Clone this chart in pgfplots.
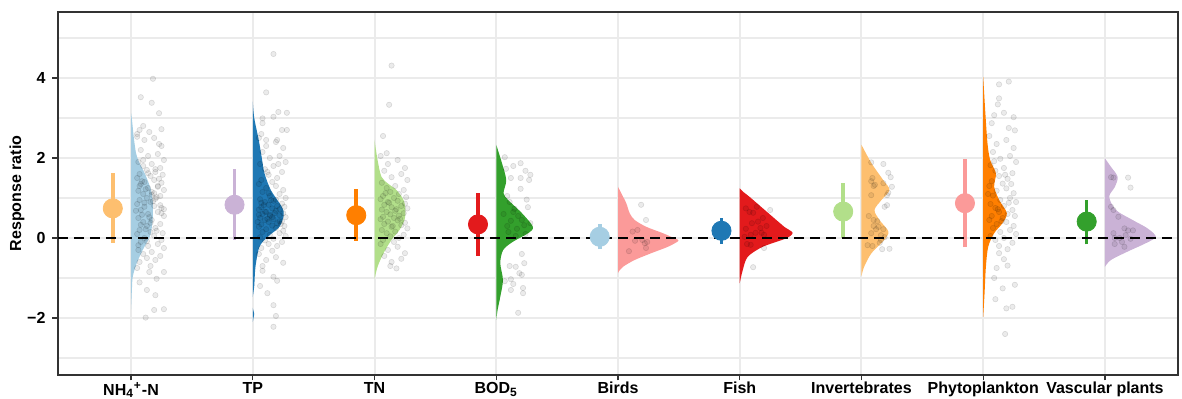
\documentclass[border=0pt]{standalone}
\usepackage{fontspec}
\setmainfont{Liberation Sans}
\usepackage{pgfplots}
\usepackage{pgfplotstable}
\pgfplotsset{compat=1.18}
\definecolor{lblue}{HTML}{A6CEE3}
\definecolor{dblue}{HTML}{1F78B4}
\definecolor{lgreen}{HTML}{B2DF8A}
\definecolor{dgreen}{HTML}{33A02C}
\definecolor{pink}{HTML}{FB9A99}
\definecolor{red}{HTML}{E31A1C}
\definecolor{lorange}{HTML}{FDBF6F}
\definecolor{orange}{HTML}{FF7F00}
\definecolor{lpurple}{HTML}{CAB2D6}
\definecolor{gridc}{HTML}{EBEBEB}
\definecolor{framec}{HTML}{333333}

% jittered observations: o = horizontal offset from the category, y = response ratio
\pgfplotstableread[row sep=\\]{o y\\
0.18 3.98\\0.08 3.52\\0.17 3.38\\0.23 3.12\\0.25 2.72\\0.12 -1.99\\0.27 -1.78\\0.19 -1.80\\0.13 -1.30\\0.20 -1.43\\0.07 -1.11\\0.21 -1.02\\0.15 -0.85\\0.27 -0.85\\
0.07 2.70\\0.15 2.65\\0.10 2.80\\0.23 2.35\\0.05 2.53\\
0.05 2.60\\0.19 2.50\\0.11 2.45\\0.25 2.30\\0.08 2.20\\0.22 2.10\\0.14 2.05\\0.27 1.95\\0.06 1.90\\0.17 1.85\\0.10 1.80\\0.24 1.75\\0.13 1.70\\0.20 1.65\\0.07 1.60\\0.16 1.55\\
0.05 1.50\\0.19 1.45\\0.11 1.40\\0.25 1.38\\0.08 1.35\\0.22 1.30\\0.14 1.25\\0.27 1.20\\0.06 1.18\\0.17 1.15\\0.10 1.10\\0.24 1.05\\0.13 1.00\\0.20 0.98\\0.07 0.95\\0.16 0.90\\
0.05 0.85\\0.19 0.80\\0.11 0.78\\0.25 0.75\\0.08 0.70\\0.22 0.65\\0.14 0.60\\0.27 0.55\\0.06 0.50\\0.17 0.45\\0.10 0.40\\0.24 0.35\\0.13 0.30\\0.20 0.25\\0.07 0.20\\0.16 0.15\\
0.05 0.10\\0.19 0.05\\0.11 0.00\\0.25 -0.05\\0.08 -0.10\\0.22 -0.15\\0.14 -0.20\\0.27 -0.25\\0.06 -0.30\\0.17 -0.35\\0.10 -0.40\\0.24 -0.45\\0.13 -0.50\\0.20 -0.55\\0.07 -0.60\\0.16 -0.70\\
0.05 -0.75\\0.19 1.12\\0.11 0.88\\0.25 0.62\\0.08 0.33\\0.22 1.28\\0.14 1.62\\0.27 0.72\\0.09 1.42\\0.21 1.02\\0.15 0.52\\0.26 0.12\\0.04 0.68\\0.18 0.92\\0.12 1.22\\0.23 1.48\\0.06 -0.18\\0.16 0.38\\
0.10 1.95\\0.20 1.72\\0.26 1.58\\0.09 0.58\\0.21 0.18\\0.13 -0.08\\0.24 0.82\\0.07 1.30\\0.17 1.08\\0.12 0.22\\
}\tNH
\pgfplotstableread[row sep=\\]{o y\\
0.17 4.60\\0.11 3.64\\0.28 3.13\\0.21 3.15\\0.08 2.99\\0.17 3.03\\0.07 2.60\\0.28 2.70\\0.17 -2.22\\0.19 -1.95\\0.17 -1.68\\0.12 -1.38\\0.06 -1.20\\0.20 -1.07\\0.17 -0.97\\0.08 -0.82\\
0.24 2.70\\0.20 2.45\\0.11 2.45\\0.08 2.87\\
0.05 2.50\\0.19 2.40\\0.11 2.30\\0.25 2.25\\0.08 2.15\\0.22 2.05\\0.14 2.00\\0.27 1.90\\0.06 1.85\\0.17 1.80\\0.10 1.72\\0.24 1.65\\0.13 1.58\\0.20 1.50\\0.07 1.45\\0.16 1.40\\
0.05 1.35\\0.19 1.30\\0.11 1.25\\0.25 1.20\\0.08 1.15\\0.22 1.10\\0.14 1.05\\0.27 1.00\\0.06 0.97\\0.17 0.93\\0.10 0.90\\0.24 0.86\\0.13 0.83\\0.20 0.80\\0.07 0.77\\0.16 0.74\\
0.05 0.71\\0.19 0.68\\0.11 0.65\\0.25 0.62\\0.08 0.60\\0.22 0.57\\0.14 0.55\\0.27 0.52\\0.06 0.50\\0.17 0.47\\0.10 0.45\\0.24 0.42\\0.13 0.40\\0.20 0.37\\0.07 0.34\\0.16 0.31\\
0.05 0.28\\0.19 0.25\\0.11 0.22\\0.25 0.18\\0.08 0.15\\0.22 0.12\\0.14 0.08\\0.27 0.05\\0.06 0.02\\0.17 -0.02\\0.10 -0.06\\0.24 -0.10\\0.13 -0.15\\0.20 -0.20\\0.07 -0.25\\0.16 -0.32\\
0.05 -0.40\\0.19 -0.48\\0.11 -0.55\\0.25 -0.62\\0.08 -0.70\\0.22 0.72\\0.14 0.58\\0.12 0.48\\0.18 0.62\\0.09 0.82\\0.23 0.35\\0.15 0.95\\0.04 0.40\\0.26 0.78\\0.12 1.65\\0.21 1.85\\
0.10 0.66\\0.16 0.52\\0.22 0.42\\0.07 0.88\\0.26 0.30\\0.13 1.12\\0.19 0.96\\0.05 0.58\\
}\tTP
\pgfplotstableread[row sep=\\]{o y\\
0.14 4.31\\0.12 3.33\\0.07 2.55\\0.10 2.12\\0.18 -0.76\\0.13 -0.70\\
0.05 2.05\\0.19 1.95\\0.11 1.85\\0.25 1.75\\0.08 1.68\\0.22 1.60\\0.14 1.52\\0.27 1.45\\0.06 1.38\\0.17 1.30\\0.10 1.25\\0.24 1.20\\0.13 1.15\\0.20 1.10\\0.07 1.05\\0.16 1.00\\
0.05 0.97\\0.19 0.93\\0.11 0.90\\0.25 0.86\\0.08 0.83\\0.22 0.80\\0.14 0.77\\0.27 0.74\\0.06 0.71\\0.17 0.68\\0.10 0.65\\0.24 0.62\\0.13 0.59\\0.20 0.56\\0.07 0.53\\0.16 0.50\\
0.05 0.47\\0.19 0.44\\0.11 0.41\\0.25 0.38\\0.08 0.35\\0.22 0.32\\0.14 0.28\\0.27 0.24\\0.06 0.20\\0.17 0.16\\0.10 0.12\\0.24 0.08\\0.13 0.04\\0.20 0.00\\0.07 -0.05\\0.16 -0.10\\
0.05 -0.15\\0.19 -0.22\\0.11 -0.30\\0.25 -0.38\\0.08 -0.45\\0.22 -0.52\\0.14 -0.60\\0.12 0.88\\0.18 0.72\\0.09 1.12\\0.21 0.48\\0.15 0.30\\0.26 1.02\\
}\tTN
\pgfplotstableread[row sep=\\]{o y\\
0.07 2.02\\0.20 1.87\\0.14 1.80\\0.08 1.73\\0.28 1.58\\0.20 1.50\\0.12 1.50\\0.27 1.45\\0.20 1.23\\0.25 0.96\\0.11 0.90\\0.15 0.73\\0.26 0.77\\0.06 0.60\\0.18 0.55\\0.12 0.43\\
0.28 0.37\\0.23 0.32\\0.17 0.23\\0.09 0.30\\0.14 0.65\\0.21 0.45\\0.10 0.15\\0.24 0.10\\0.16 0.05\\0.21 -0.40\\0.23 -0.63\\0.11 -0.70\\0.16 -0.72\\0.19 -0.88\\0.21 -0.92\\0.12 -1.03\\
0.07 -1.08\\0.14 -1.15\\0.22 -1.25\\0.12 -1.30\\0.22 -1.38\\0.18 -1.87\\0.24 1.68\\0.09 1.05\\
}\tBOD
\pgfplotstableread[row sep=\\]{o y\\
0.19 0.83\\0.23 0.45\\0.12 0.16\\0.16 0.20\\0.20 -0.05\\0.14 -0.07\\0.24 -0.10\\0.09 -0.33\\0.23 -0.25\\0.22 -0.13\\
}\tBirds
\pgfplotstableread[row sep=\\]{o y\\
0.25 0.70\\0.14 0.78\\0.08 0.65\\0.15 0.41\\0.19 0.50\\0.10 0.37\\0.05 0.23\\0.18 0.13\\0.13 0.13\\0.09 0.08\\0.20 0.08\\0.17 0.25\\0.06 -0.15\\0.09 -0.17\\0.20 -0.25\\0.04 0.03\\
0.11 -0.73\\0.05 0.74\\0.11 0.63\\0.22 0.30\\
}\tFish
\pgfplotstableread[row sep=\\]{o y\\
0.08 1.89\\0.18 1.85\\0.22 1.63\\0.24 1.52\\0.09 1.50\\0.08 1.42\\0.11 1.33\\0.10 1.30\\0.18 1.37\\0.25 1.28\\0.22 1.13\\0.21 1.07\\0.08 1.07\\0.21 0.82\\0.19 0.78\\0.06 0.55\\
0.10 0.45\\0.13 0.42\\0.10 0.30\\0.14 0.28\\0.12 0.22\\0.18 0.22\\0.16 0.07\\0.08 0.12\\0.19 0.02\\0.05 -0.18\\0.09 -0.20\\0.15 -0.12\\0.17 -0.28\\0.23 -0.27\\0.16 -0.05\\
}\tInv
\pgfplotstableread[row sep=\\]{o y\\
0.21 3.91\\0.13 3.84\\0.13 3.49\\0.12 3.34\\0.09 3.07\\0.17 3.13\\0.25 3.02\\0.07 2.87\\0.21 2.75\\0.26 2.69\\0.18 -2.40\\0.10 -1.53\\0.24 -1.72\\0.19 -1.76\\0.16 -1.26\\0.26 -1.17\\
0.09 -1.00\\0.11 -0.75\\0.20 -0.69\\0.17 -0.53\\0.13 -0.38\\
0.05 2.55\\0.19 2.45\\0.11 2.35\\0.25 2.25\\0.08 2.15\\0.22 2.05\\0.14 1.98\\0.27 1.90\\0.06 1.82\\0.17 1.75\\0.10 1.68\\0.24 1.62\\0.13 1.55\\0.20 1.48\\0.07 1.42\\0.16 1.36\\
0.05 1.30\\0.19 1.24\\0.11 1.18\\0.25 1.12\\0.08 1.06\\0.22 1.00\\0.14 0.95\\0.27 0.90\\0.06 0.85\\0.17 0.80\\0.10 0.75\\0.24 0.70\\0.13 0.65\\0.20 0.60\\0.07 0.55\\0.16 0.50\\
0.05 0.45\\0.19 0.40\\0.11 0.35\\0.25 0.30\\0.08 0.25\\0.22 0.20\\0.14 0.15\\0.27 0.10\\0.06 0.05\\0.17 0.00\\0.10 -0.05\\0.24 -0.12\\0.13 -0.20\\0.20 -0.28\\0.12 0.72\\0.18 1.58\\
0.09 1.92\\0.21 0.88\\0.15 0.42\\0.23 1.35\\0.04 1.10\\0.26 0.55\\
}\tPhy
\pgfplotstableread[row sep=\\]{o y\\
0.19 1.51\\0.07 1.51\\0.05 1.52\\0.21 1.26\\0.05 0.78\\0.07 0.70\\0.11 0.53\\0.16 0.24\\0.19 0.19\\0.23 0.19\\0.17 0.07\\0.07 0.12\\0.08 0.00\\0.21 -0.02\\0.14 -0.10\\0.08 -0.15\\
0.16 -0.22\\0.12 0.00\\
}\tVas

\newcommand\prange[5]{%
  \addplot[#5, line width=1.8pt, forget plot] coordinates {(#1,#2) (#1,#4)};
  \addplot[#5, only marks, mark=*, mark size=4.8pt, forget plot] coordinates {(#1,#3)};
}
\newcommand\jit[2]{%
  \addplot[only marks, mark=*, mark size=1.35pt, mark options={fill=black, fill opacity=0.08, draw=black, draw opacity=0.12, line width=0.3pt}] table[x expr=\thisrow{o}+#1, y=y] {#2};
}

\begin{document}
\begin{tikzpicture}
\useasboundingbox (-29pt,-12pt) rectangle (562pt,187.5pt);
\begin{axis}[
  at={(0,0)}, anchor=south west,
  width=560pt, height=181.5pt, scale only axis,
  xmin=0.4, xmax=9.6, ymin=-3.425, ymax=5.65,
  xtick={1,2,3,4,5,6,7,8,9},
  xticklabels={NH\textsubscript{4}\textsuperscript{+}-N, TP, TN, BOD\textsubscript{5}, Birds, Fish, Invertebrates, Phytoplankton, Vascular plants},
  ytick={-2,0,2,4}, yticklabels={−2,0,2,4},
  minor ytick={-3,-1,1,3,5},
  xmajorgrids, ymajorgrids, yminorgrids,
  major grid style={draw=gridc, line width=1pt},
  minor grid style={draw=gridc, line width=0.55pt},
  axis line style={draw=framec, line width=0.55pt},
  tick align=outside, major tick length=2.75pt, minor tick length=0pt,
  tick style={draw=framec, line width=0.55pt},
  xtick pos=bottom, ytick pos=left,
  ticklabel style={font=\fontsize{8}{9.6}\selectfont\bfseries, text=black},
  xticklabel style={yshift=2.6pt},
  ylabel={Response ratio},
  every axis y label/.style={at={(axis description cs:-0.0366,0.5)}, rotate=90, anchor=center, font=\fontsize{8}{9.6}\selectfont\bfseries},
  clip=true,
]
% half violins
\addplot[fill=lblue, draw=none, smooth, tension=0.5] coordinates {(1,3.12) (1.008,2.95) (1.022,2.53) (1.041,2.12) (1.066,1.9) (1.112,1.62) (1.156,1.28) (1.176,1.0) (1.18,0.7) (1.176,0.4) (1.156,0.05) (1.096,-0.3) (1.047,-0.63) (1.014,-0.97) (1.007,-1.3) (1,-1.78)} -- cycle;
\addplot[fill=dblue, draw=none, smooth, tension=0.5] coordinates {(2,3.41) (2.012,3.0) (2.049,2.45) (2.074,2.0) (2.096,1.62) (2.148,1.2) (2.238,0.78) (2.254,0.57) (2.219,0.28) (2.123,0.03) (2.055,-0.22) (2.022,-0.72) (2.012,-1.2) (2,-1.47)} -- cycle;
\addplot[fill=dblue, draw=none] coordinates {(2,-1.75) (2.012,-1.9) (2,-2.1)} -- cycle;
\addplot[fill=lgreen, draw=none, smooth, tension=0.5] coordinates {(3,2.45) (3.025,1.95) (3.057,1.53) (3.115,1.35) (3.18,1.2) (3.238,0.95) (3.254,0.7) (3.246,0.45) (3.205,0.2) (3.139,-0.05) (3.074,-0.38) (3.025,-0.72) (3,-1.03)} -- cycle;
\addplot[fill=dgreen, draw=none, smooth, tension=0.5] coordinates {(4,2.33) (4.047,1.87) (4.082,1.45) (4.06,1.12) (4.098,0.95) (4.211,0.62) (4.301,0.28) (4.262,0.12) (4.139,-0.09) (4.057,-0.3) (4.033,-0.63) (4.055,-1.05) (4.033,-1.47) (4.011,-1.8) (4,-2.05)} -- cycle;
\addplot[fill=pink, draw=none, smooth, tension=0.5] coordinates {(5,1.28) (5.03,1.1) (5.068,0.87) (5.096,0.62) (5.137,0.45) (5.232,0.28) (5.369,0.12) (5.465,-0.01) (5.497,-0.07) (5.41,-0.22) (5.273,-0.38) (5.137,-0.55) (5.041,-0.72) (5.006,-0.84) (5,-0.88)} -- cycle;
\addplot[fill=red, draw=none, smooth, tension=0.5] coordinates {(6,1.24) (6.03,1.15) (6.08,1.03) (6.175,0.78) (6.27,0.53) (6.366,0.28) (6.434,0.13) (6.38,-0.01) (6.189,-0.22) (6.066,-0.47) (6.025,-0.8) (6,-1.13)} -- cycle;
\addplot[fill=lorange, draw=none, smooth, tension=0.5] coordinates {(7,2.33) (7.082,1.87) (7.178,1.45) (7.23,1.2) (7.164,0.95) (7.107,0.7) (7.148,0.45) (7.221,0.16) (7.186,-0.05) (7.082,-0.38) (7.022,-0.72) (7,-0.95)} -- cycle;
\addplot[fill=orange, draw=none, smooth, tension=0.5] coordinates {(8,4.03) (8.016,3.2) (8.035,2.37) (8.057,1.95) (8.104,1.62) (8.09,1.28) (8.131,0.95) (8.194,0.62) (8.158,0.37) (8.09,0.12) (8.041,-0.22) (8.022,-0.72) (8.011,-1.38) (8,-1.98)} -- cycle;
\addplot[fill=lpurple, draw=none, smooth, tension=0.5] coordinates {(9,1.99) (9.049,1.78) (9.104,1.53) (9.082,1.28) (9.035,1.03) (9.09,0.7) (9.227,0.45) (9.35,0.24) (9.418,0.03) (9.336,-0.13) (9.186,-0.34) (9.049,-0.55) (9,-0.72)} -- cycle;
% jittered points
\jit{1}{\tNH}
\jit{2}{\tTP}
\jit{3}{\tTN}
\jit{4}{\tBOD}
\jit{5}{\tBirds}
\jit{6}{\tFish}
\jit{7}{\tInv}
\jit{8}{\tPhy}
\jit{9}{\tVas}
% mean and interval
\prange{0.85}{-0.12}{0.74}{1.62}{lorange}
\prange{1.85}{-0.05}{0.83}{1.72}{lpurple}
\prange{2.85}{-0.07}{0.57}{1.22}{orange}
\prange{3.85}{-0.44}{0.34}{1.12}{red}
\prange{4.85}{-0.28}{0.03}{0.34}{lblue}
\prange{5.85}{-0.15}{0.18}{0.49}{dblue}
\prange{6.85}{0.00}{0.66}{1.37}{lgreen}
\prange{7.85}{-0.23}{0.87}{1.97}{pink}
\prange{8.85}{-0.16}{0.41}{0.95}{dgreen}
% reference line
\addplot[black, line width=1.3pt, dash pattern=on 5pt off 3pt] coordinates {(0.4,0) (9.6,0)};
\end{axis}
\end{tikzpicture}
\end{document}
